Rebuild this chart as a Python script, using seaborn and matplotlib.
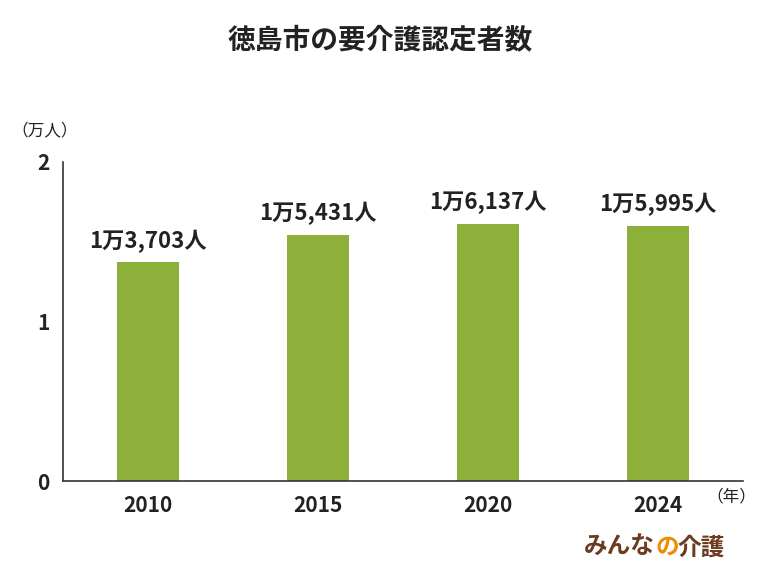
import matplotlib
matplotlib.use("Agg")
import matplotlib.pyplot as plt
import seaborn as sns
import pandas as pd

plt.rcParams["font.family"] = "Noto Sans CJK JP"

years = ["2010", "2015", "2020", "2024"]
values = [1.3703, 1.5431, 1.6137, 1.5995]
labels = ["1万3,703人", "1万5,431人", "1万6,137人", "1万5,995人"]

df = pd.DataFrame({"year": years, "value": values})

fig = plt.figure(figsize=(7.6, 5.7), dpi=100)
ax = fig.add_axes([0.083, 0.156, 0.895, 0.56])
sns.barplot(data=df, x="year", y="value", color="#8db03a", width=0.365,
            saturation=1, ax=ax)
ax.set_xlim(-0.5, 3.5)
ax.set_ylim(0, 2)
ax.set_yticks([0, 1, 2])
ax.set_xlabel("")
ax.set_ylabel("")
for s in ["top", "right"]:
    ax.spines[s].set_visible(False)
for s in ["left", "bottom"]:
    ax.spines[s].set_color("#333333")
    ax.spines[s].set_linewidth(1.2)
ax.tick_params(axis="both", length=0, labelsize=15, colors="#222222", pad=10)
for t in ax.get_xticklabels() + ax.get_yticklabels():
    t.set_fontweight("bold")

for i, (v, lab) in enumerate(zip(values, labels)):
    ax.text(i, v + 0.06, lab, ha="center", va="bottom", fontsize=16,
            fontweight="bold", color="#222222")

fig.text(0.5, 0.927, "徳島市の要介護認定者数", ha="center", va="center",
         fontsize=20, fontweight="bold", color="#222222")
fig.text(0.015, 0.77, "（万人）", ha="left", va="center", fontsize=12, color="#222222")
fig.text(0.93, 0.128, "（年）", ha="left", va="center", fontsize=12, color="#222222")

fig.text(0.768, 0.04, "みんな", ha="left", va="center", fontsize=17,
         fontweight="bold", color="#6b3a1f")
fig.text(0.862, 0.04, "の", ha="left", va="center", fontsize=17,
         fontweight="bold", color="#f08a00")
fig.text(0.891, 0.04, "介護", ha="left", va="center", fontsize=17,
         fontweight="bold", color="#6b3a1f")

fig.savefig("out.png", dpi=100)
